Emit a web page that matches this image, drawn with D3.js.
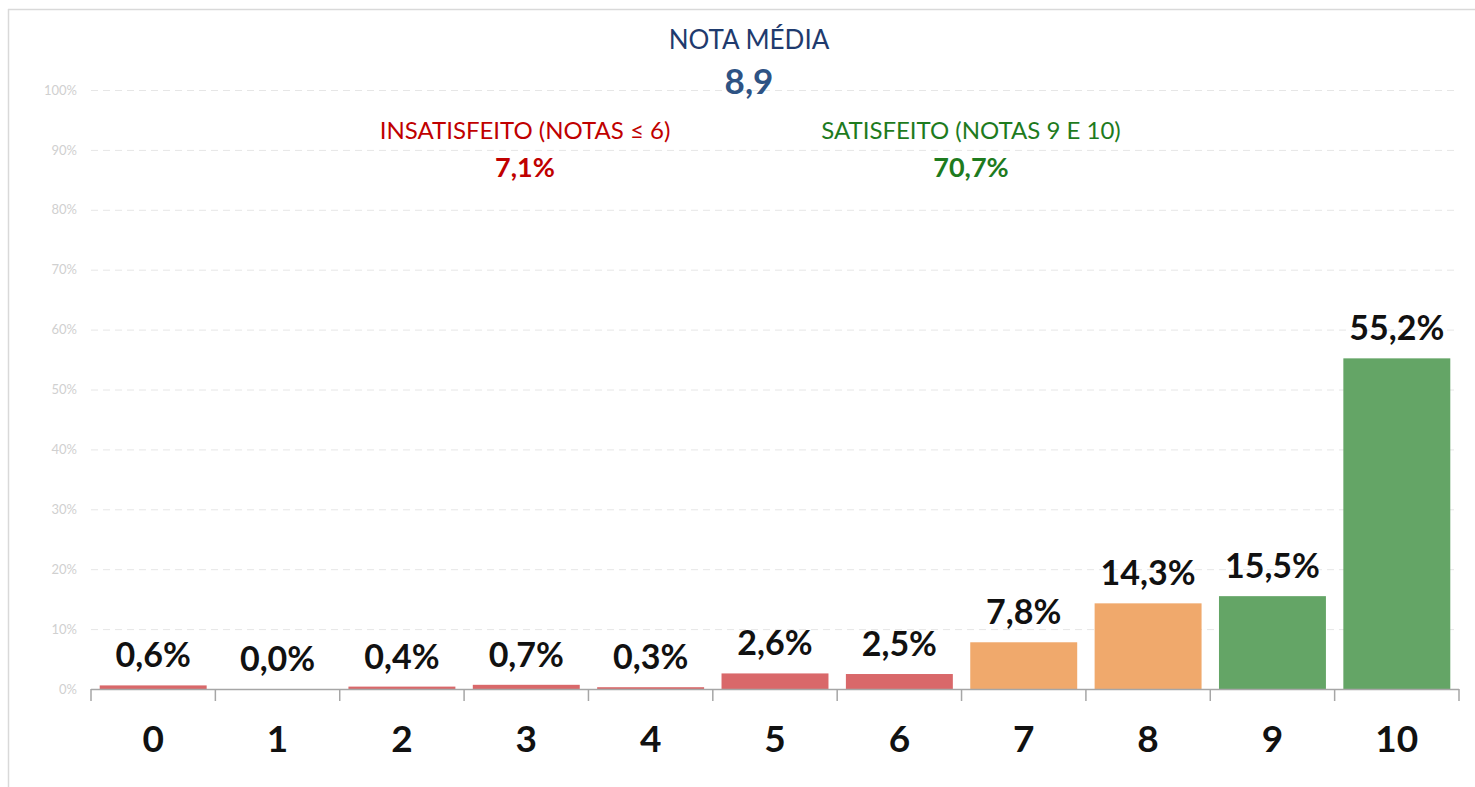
<!DOCTYPE html>
<html>
<head>
<meta charset="utf-8">
<script src="https://cdn.jsdelivr.net/npm/d3@7"></script>
<style>
  body { margin: 0; background: #fff; }
  svg { display: block; font-family: Lato, "Open Sans", sans-serif; }
</style>
</head>
<body>
<svg id="chart" width="1475" height="787"></svg>
<script>
// notas 0..10 and share of answers (%)
var notas = ['0', '1', '2', '3', '4', '5', '6', '7', '8', '9', '10'];
var valores = [0.6, 0.0, 0.4, 0.7, 0.3, 2.6, 2.5, 7.8, 14.3, 15.5, 55.2];
var grupos = ['ins', 'ins', 'ins', 'ins', 'ins', 'ins', 'ins', 'neu', 'neu', 'sat', 'sat'];
var yTicks = [0, 10, 20, 30, 40, 50, 60, 70, 80, 90, 100];

var notaMedia = '8,9';
var insatisfeito = '7,1%';
var satisfeito = '70,7%';

var svg = d3.select('#chart');

var pLeft = 91, pRight = 1459, pTop = 90, pBottom = 689;

var x = d3.scaleBand()
  .domain(notas)
  .range([pLeft, pRight])
  .paddingInner(0.14)
  .paddingOuter(0.07);

var y = d3.scaleLinear()
  .domain([0, 100])
  .range([pBottom, pTop]);

var color = d3.scaleOrdinal()
  .domain(['ins', 'neu', 'sat'])
  .range(['#d9686a', '#f0a96c', '#64a566']);

var fmt = function(v){ return v.toFixed(1).replace('.', ',') + '%'; };

// frame (top + left edge only)
svg.append('line').attr('x1', 8).attr('x2', 1475).attr('y1', 9.5).attr('y2', 9.5)
  .attr('stroke', '#d9d9d9').attr('stroke-width', 1.5);
svg.append('line').attr('x1', 8.5).attr('x2', 8.5).attr('y1', 9).attr('y2', 787)
  .attr('stroke', '#d9d9d9').attr('stroke-width', 1.5);

// y axis with dashed grid
var yAxis = d3.axisLeft(y)
  .tickValues(yTicks)
  .tickSize(-(pRight - pLeft))
  .tickPadding(14)
  .tickFormat(function(d){ return d + '%'; });

var gy = svg.append('g')
  .attr('transform', 'translate(' + pLeft + ',0)')
  .call(yAxis);
gy.select('.domain').remove();
gy.selectAll('.tick line')
  .attr('stroke', '#e6e6e6')
  .attr('stroke-dasharray', '7,5');
gy.selectAll('.tick text')
  .attr('fill', '#d0d0d0')
  .attr('font-size', 13)
  .attr('font-family', 'Lato, sans-serif');

// bars
svg.selectAll('.bar')
  .data(notas)
  .enter().append('rect')
  .attr('class', 'bar')
  .attr('x', function(d){ return x(d); })
  .attr('y', function(d, i){ return y(valores[i]); })
  .attr('width', x.bandwidth())
  .attr('height', function(d, i){ return pBottom - y(valores[i]); })
  .attr('fill', function(d, i){ return color(grupos[i]); });

// value labels
svg.selectAll('.amount')
  .data(notas)
  .enter().append('text')
  .attr('class', 'amount')
  .attr('x', function(d){ return x(d) + x.bandwidth() / 2; })
  .attr('y', function(d, i){ return y(valores[i]) - 18; })
  .attr('text-anchor', 'middle')
  .attr('font-size', 34)
  .attr('font-weight', 'bold')
  .attr('fill', '#111')
  .text(function(d, i){ return fmt(valores[i]); });

// x axis: boundary ticks between categories
var bounds = d3.range(notas.length + 1).map(function(i){ return pLeft + i * (pRight - pLeft) / notas.length; });
var gx = svg.append('g');
gx.append('line').attr('x1', pLeft).attr('x2', pRight).attr('y1', pBottom + 0.5).attr('y2', pBottom + 0.5)
  .attr('stroke', '#a6a6a6').attr('stroke-width', 1.5);
gx.selectAll('.xt').data(bounds).enter().append('line')
  .attr('x1', function(d){ return d; }).attr('x2', function(d){ return d; })
  .attr('y1', pBottom).attr('y2', pBottom + 12)
  .attr('stroke', '#a6a6a6').attr('stroke-width', 1.5);
gx.selectAll('.xl').data(notas).enter().append('text')
  .attr('x', function(d){ return x(d) + x.bandwidth() / 2; })
  .attr('y', 752)
  .attr('text-anchor', 'middle')
  .attr('font-size', 37)
  .attr('font-weight', 'bold')
  .attr('fill', '#111')
  .text(function(d){ return d; });

// headline texts
svg.append('text').attr('x', 749).attr('y', 49).attr('text-anchor', 'middle')
  .attr('font-size', 26).attr('fill', '#1f3b6e').text('NOTA MÉDIA');
svg.append('text').attr('x', 749).attr('y', 94).attr('text-anchor', 'middle')
  .attr('font-size', 35).attr('font-weight', 'bold').attr('fill', '#2e5384').text(notaMedia);

svg.append('text').attr('x', 525).attr('y', 139).attr('text-anchor', 'middle')
  .attr('font-size', 24).attr('fill', '#c00000').text('INSATISFEITO (NOTAS ≤ 6)');
svg.append('text').attr('x', 525).attr('y', 177).attr('text-anchor', 'middle')
  .attr('font-size', 27).attr('font-weight', 'bold').attr('fill', '#c00000').text(insatisfeito);

svg.append('text').attr('x', 971).attr('y', 139).attr('text-anchor', 'middle')
  .attr('font-size', 24).attr('fill', '#1e7b1e').text('SATISFEITO (NOTAS 9 E 10)');
svg.append('text').attr('x', 971).attr('y', 177).attr('text-anchor', 'middle')
  .attr('font-size', 27).attr('font-weight', 'bold').attr('fill', '#1e7b1e').text(satisfeito);
</script>
</body>
</html>
